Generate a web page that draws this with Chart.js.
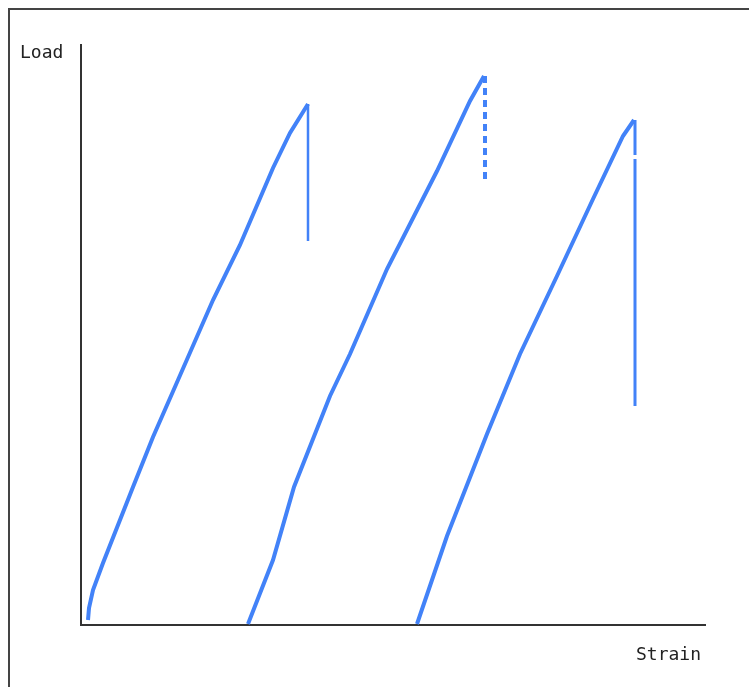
<!DOCTYPE html>
<html>
<head>
<meta charset="utf-8">
<script src="https://cdn.jsdelivr.net/npm/chart.js@4/dist/chart.umd.min.js"></script>
<style>
  html, body { margin: 0; padding: 0; background: #fff; }
  #wrap { width: 749px; height: 687px; position: relative; }
</style>
</head>
<body>
<div id="wrap"><canvas id="chart"></canvas></div>
<script>
// values (strain, load in plot units)
const strain1 = [0.7, 0.8, 1.2, 2.2, 5.2, 7.2, 9.7, 13.2, 15.9, 19.2, 20.9, 22.7];
const load1   = [0.5, 1.7, 3.5, 6.2, 13.8, 18.8, 24.5, 32.5, 38.0, 45.7, 49.2, 52.1];
const drop1Strain = [22.7, 22.7];
const drop1Load   = [52.1, 38.4];

const strain2 = [16.7, 19.2, 21.3, 24.9, 26.9, 30.6, 35.6, 38.9, 40.3];
const load2   = [0.1, 6.5, 13.8, 22.9, 27.1, 35.6, 45.4, 52.4, 54.9];
const drop2Strain = [40.4, 40.4];
const drop2Load   = [54.9, 44.3];

const strain3 = [33.6, 36.6, 40.6, 43.9, 47.6, 51.2, 54.2, 55.3];
const load3   = [0.1, 8.9, 19.1, 27.1, 34.9, 42.6, 48.9, 50.5];
const drop3Strain = [55.4, 55.4, 55.4, 55.4, 55.4];
const drop3Load   = [50.5, 47.0, null, 46.6, 21.9];

const strainMax = 62.4;
const loadMax = 58;
const yTitle = 'Load';
const xTitle = 'Strain';

const blue = '#4282f8';

function pts(xs, ys) {
  return xs.map((x, i) => ({ x: x, y: ys[i] }));
}

const frameAndTitles = {
  id: 'frameAndTitles',
  beforeDraw(chart) {
    const ctx = chart.ctx;
    ctx.save();
    ctx.fillStyle = '#fff';
    ctx.fillRect(0, 0, chart.width, chart.height);
    ctx.strokeStyle = '#444';
    ctx.lineWidth = 2;
    ctx.beginPath();
    ctx.moveTo(9, chart.height + 2);
    ctx.lineTo(9, 9);
    ctx.lineTo(chart.width + 2, 9);
    ctx.stroke();
    ctx.restore();
  },
  afterDraw(chart) {
    const ctx = chart.ctx;
    ctx.save();
    ctx.fillStyle = '#222';
    ctx.font = '18px "DejaVu Sans Mono"';
    ctx.textBaseline = 'alphabetic';
    ctx.fillText(yTitle, 20, 58);
    ctx.fillText(xTitle, 636, 660);
    ctx.restore();
  }
};

new Chart(document.getElementById('chart'), {
  type: 'line',
  data: {
    datasets: [
      { data: pts(strain1, load1), borderWidth: 4 },
      { data: pts(drop1Strain, drop1Load), borderWidth: 2.5 },
      { data: pts(strain2, load2), borderWidth: 4 },
      { data: pts(drop2Strain, drop2Load), borderWidth: 4, borderDash: [7, 5] },
      { data: pts(strain3, load3), borderWidth: 4 },
      { data: pts(drop3Strain, drop3Load), borderWidth: 3, spanGaps: false }
    ].map(d => Object.assign({
      borderColor: blue,
      backgroundColor: blue,
      pointRadius: 0,
      tension: 0,
      fill: false
    }, d))
  },
  options: {
    responsive: true,
    maintainAspectRatio: false,
    animation: false,
    layout: { padding: { left: 73, right: 44, top: 45, bottom: 54 } },
    scales: {
      x: {
        type: 'linear',
        min: 0,
        max: strainMax,
        grid: { display: false },
        ticks: { display: false },
        border: { display: true, color: '#333', width: 2 }
      },
      y: {
        min: 0,
        max: loadMax,
        grid: { display: false },
        ticks: { display: false },
        border: { display: true, color: '#333', width: 2 }
      }
    },
    plugins: {
      legend: { display: false },
      tooltip: { enabled: false }
    }
  },
  plugins: [frameAndTitles]
});
</script>
</body>
</html>
